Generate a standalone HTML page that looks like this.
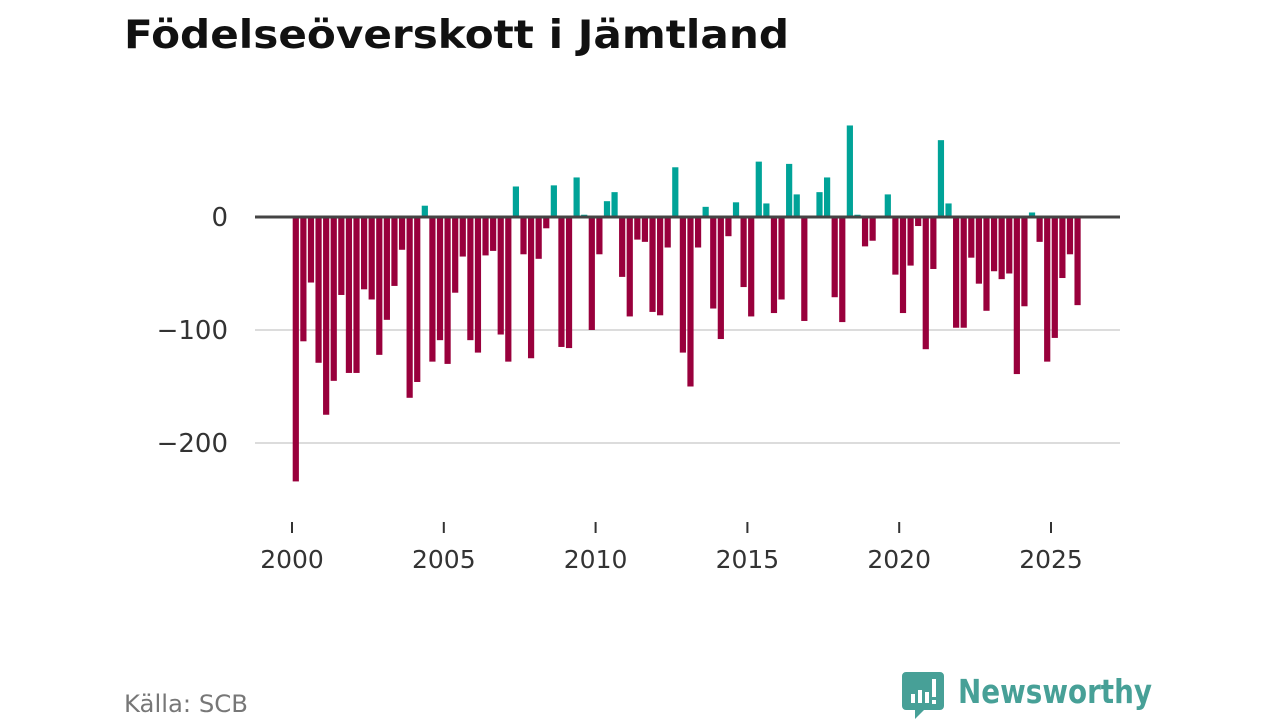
<!DOCTYPE html>
<html><head><meta charset="utf-8">
<style>
body{margin:0;width:1280px;height:720px;background:#fff;overflow:hidden;font-family:"DejaVu Sans","Liberation Sans",sans-serif;}
</style></head>
<body>
<svg width="1280" height="720" xmlns="http://www.w3.org/2000/svg">
<text x="124" y="48" font-family="'DejaVu Sans','Liberation Sans',sans-serif" font-weight="bold" font-size="39" fill="#111" textLength="665" lengthAdjust="spacingAndGlyphs">Födelseöverskott i Jämtland</text>
<g id="grid"></g>
<g id="bars"></g>
<g id="axes"></g>
<text x="124" y="712" font-size="24" fill="#777" font-family="'DejaVu Sans','Liberation Sans',sans-serif" textLength="124" lengthAdjust="spacingAndGlyphs">Källa: SCB</text>
<g>
<path d="M906,672 h34 a4,4 0 0 1 4,4 v30 a4,4 0 0 1 -4,4 h-16 l-9,9 v-9 h-9 a4,4 0 0 1 -4,-4 v-30 a4,4 0 0 1 4,-4z" fill="#47a097"/>
<rect x="911" y="694" width="4" height="9" fill="#fff"/>
<rect x="918" y="690" width="4" height="13" fill="#fff"/>
<rect x="925" y="692" width="4" height="11" fill="#fff"/>
<rect x="932" y="679" width="4" height="18" fill="#fff"/>
<rect x="932" y="700" width="4" height="4" fill="#fff"/>
<text x="958" y="703" font-size="33" font-weight="bold" fill="#47a097" font-family="'DejaVu Sans','Liberation Sans',sans-serif" textLength="194" lengthAdjust="spacingAndGlyphs">Newsworthy</text>
</g>
</svg>
<script>
const startYear = 2000;
const values = [-234,-110,-58,-129,-175,-145,-69,-138,-138,-64,-73,-122,-91,-61,-29,-160,
-146,10,-128,-109,-130,-67,-35,-109,-120,-34,-30,-104,-128,27,-33,-125,
-37,-10,28,-115,-116,35,2,-100,-33,14,22,-53,-88,-20,-22,-84,
-87,-27,44,-120,-150,-27,9,-81,-108,-17,13,-62,-88,49,12,-85,
-73,47,20,-92,0,22,35,-71,-93,81,2,-26,-21,0,20,-51,
-85,-43,-8,-117,-46,68,12,-98,-98,-36,-59,-83,-48,-55,-50,-139,
-79,4,-22,-128,-107,-54,-33,-78];
const yTicks = [0,-100,-200];
const yTickLabels = ["0","\u2212100","\u2212200"];
const xTicks = [2000,2005,2010,2015,2020,2025];
const xTickLabels = ["2000","2005","2010","2015","2020","2025"];

const NS="http://www.w3.org/2000/svg";
const x = yr => 292 + (yr-2000)*30.36;
const y = v => 217 - v*1.13;
function mk(tag, attrs, parent){const e=document.createElementNS(NS,tag);for(const k in attrs)e.setAttribute(k,attrs[k]);parent.appendChild(e);return e;}
const grid=document.getElementById('grid'), bars=document.getElementById('bars'), axes=document.getElementById('axes');
yTicks.forEach((t,i)=>{
  if(t!==0){const l=mk('line',{x1:255,x2:1120,y1:y(t),y2:y(t),stroke:'#dcdcdc','stroke-width':2},grid);
  
  }
  const tx=mk('text',{x:228,y:y(t)+9,'text-anchor':'end','font-size':26,fill:'#333'},axes);
  tx.textContent=yTickLabels[i];
  
  
});
values.forEach((v,i)=>{
  const c = x(startYear + (i+0.5)/4);
  const r=mk('rect',{x:c-3.1,width:6.2,y:Math.min(y(v),y(0)),height:Math.abs(y(v)-y(0)),fill:v>=0?'#00a398':'#99003c'},bars);
  
  
});
const z=mk('line',{x1:255,x2:1120,y1:y(0),y2:y(0),stroke:'#444','stroke-width':3},axes);


xTicks.forEach((t,i)=>{
  const tk=mk('line',{x1:x(t),x2:x(t),y1:522,y2:533,stroke:'#333','stroke-width':2},axes);
  
  
  const tx=mk('text',{x:x(t),y:568,'text-anchor':'middle','font-size':25,fill:'#333'},axes);
  tx.textContent=xTickLabels[i];
  
  
});
</script>
</body></html>
